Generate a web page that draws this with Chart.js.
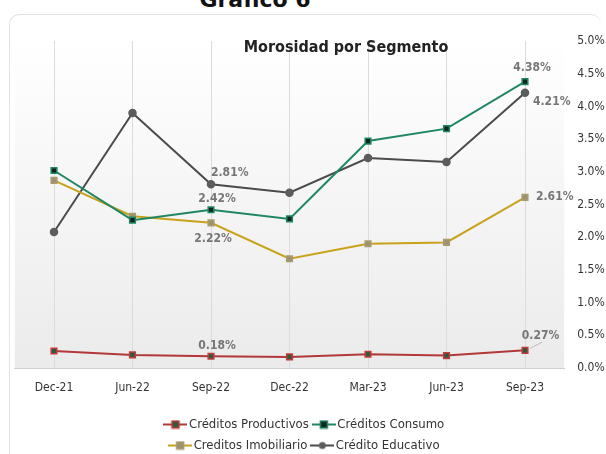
<!DOCTYPE html>
<html><head><meta charset="utf-8">
<script src="https://cdn.jsdelivr.net/npm/chart.js@4.4.1/dist/chart.umd.min.js"></script>
<style>
html,body{margin:0;padding:0;width:606px;height:454px;overflow:hidden;background:#fff;}
#card{position:absolute;left:9px;top:14px;width:592px;height:480px;border:1px solid #e3e3e3;border-right:none;border-radius:10px;box-sizing:border-box;}
#hdr{position:absolute;left:155px;width:200px;top:-11px;text-align:center;font:bold 22px "DejaVu Sans";line-height:22px;color:#111;white-space:nowrap;}
#ttl{position:absolute;left:0;width:692px;top:37px;text-align:center;font:bold 16px "DejaVu Sans Condensed","DejaVu Sans";color:#222;white-space:nowrap;}
canvas{position:absolute;left:0;top:0;}
</style></head>
<body>
<div id="card"></div>
<div id="hdr">Gráfico 6</div>
<canvas id="c" width="606" height="462"></canvas>
<div id="ttl">Morosidad por Segmento</div>
<script>
const categories = ['Dec-21','Jun-22','Sep-22','Dec-22','Mar-23','Jun-23','Sep-23'];
const seriesNames = ['Créditos Productivos','Créditos Consumo','Creditos Imobiliario','Crédito Educativo'];
const productivos = [0.26, 0.20, 0.18, 0.17, 0.21, 0.19, 0.27];
const consumo     = [3.02, 2.26, 2.42, 2.28, 3.47, 3.66, 4.38];
const imobiliario = [2.87, 2.32, 2.22, 1.67, 1.90, 1.92, 2.61];
const educativo   = [2.08, 3.90, 2.81, 2.68, 3.21, 3.15, 4.21];
const yTickValues = [0, 0.5, 1, 1.5, 2, 2.5, 3, 3.5, 4, 4.5, 5];
const yTickLabels = ['0.0%','0.5%','1.0%','1.5%','2.0%','2.5%','3.0%','3.5%','4.0%','4.5%','5.0%'];
// which points carry a value label: [series index, category index]
const labelledPoints = [[3,2],[1,2],[2,2],[0,2],[1,6],[3,6],[2,6],[0,6]];

// styles (kept separate from data)
const styles = [
  {line:'#b3383a', fill:'#2f5a3c', border:'#c23b3d', shape:'rect'},
  {line:'#1f8764', fill:'#10261c', border:'#1f8764', shape:'rect'},
  {line:'#c9a21c', fill:'#9c9172', border:'#a99c6e', shape:'rect'},
  {line:'#4b4b4b', fill:'#5c5c5c', border:'#5c5c5c', shape:'circle'}
];
const labelStyle = [ // dx, dy, align
  [0,-11,'left'],[6,-11,'center'],[2,16,'center'],[6,-10.5,'center'],
  [7,-14,'center'],[8,9,'left'],[11,0,'left'],[15.5,-14.5,'center']
];
const FONT = '"DejaVu Sans Condensed","DejaVu Sans",sans-serif';
const LEGEND_W = 330;

function legendIcon(s){
  const c = document.createElement('canvas'); c.width = 24; c.height = 10;
  const g = c.getContext('2d');
  g.strokeStyle = s.line; g.lineWidth = 2;
  g.beginPath(); g.moveTo(0,5); g.lineTo(24,5); g.stroke();
  g.fillStyle = s.fill; g.strokeStyle = s.border; g.lineWidth = 1.5;
  if (s.shape === 'rect') { g.fillRect(8.5,1.5,7,7); g.strokeRect(8.5,1.5,7,7); }
  else { g.beginPath(); g.arc(12,5,3.5,0,Math.PI*2); g.fill(); }
  return c;
}
const icons = styles.map(legendIcon);

const seriesData = [productivos, consumo, imobiliario, educativo];
const datasets = seriesData.map((d,k) => ({
  label: seriesNames[k],
  data: d,
  borderColor: styles[k].line,
  backgroundColor: styles[k].line,
  borderWidth: 2,
  pointStyle: styles[k].shape,
  pointRadius: styles[k].shape === 'rect' ? 4 : 3.5,
  pointBackgroundColor: styles[k].fill,
  pointBorderColor: styles[k].border,
  pointBorderWidth: 1.5,
  tension: 0,
  fill: false
}));

const bgPlugin = {
  id: 'bgGrad',
  beforeDraw(chart){
    const {ctx, chartArea:a} = chart;
    const g = ctx.createLinearGradient(0, a.top, 0, a.bottom);
    g.addColorStop(0, '#ffffff');
    g.addColorStop(1, '#ebebeb');
    ctx.save(); ctx.fillStyle = g; ctx.fillRect(a.left, a.top, a.right - a.left, a.bottom - a.top); ctx.restore();
  }
};
function wrapLegend(chart){
  const lg = chart.legend;
  if (!lg || lg._wrapped) return;
  const origUpdate = lg.update.bind(lg);
  lg.update = function(w, h, m){ return origUpdate(Math.min(w, LEGEND_W), h, m); };
  const origDraw = lg.draw.bind(lg);
  lg.draw = function(){
    const l = this.left, r = this.right, c = (l + r) / 2 - 4;
    this.left = c - LEGEND_W / 2; this.right = c + LEGEND_W / 2;
    origDraw();
    this.left = l; this.right = r;
  };
  lg._wrapped = true;
}
const legendWrap = {
  id: 'legendWrap',
  afterInit: wrapLegend,
  beforeUpdate: wrapLegend
};
const valueLabels = {
  id: 'valueLabels',
  afterDatasetsDraw(chart){
    const ctx = chart.ctx;
    ctx.save();
    ctx.font = 'bold 12px ' + FONT;
    ctx.fillStyle = '#767676';
    ctx.textBaseline = 'middle';
    labelledPoints.forEach(([s,i], n) => {
      const pt = chart.getDatasetMeta(s).data[i];
      const [dx, dy, al] = labelStyle[n];
      ctx.textAlign = al;
      ctx.fillText(seriesData[s][i].toFixed(2) + '%', pt.x + dx, pt.y + dy);
      if (s === 0 && i === 6) {
        ctx.strokeStyle = '#bdbdbd'; ctx.lineWidth = 1;
        ctx.beginPath(); ctx.moveTo(pt.x + 5, pt.y - 2); ctx.lineTo(pt.x + 17, pt.y - 8); ctx.stroke();
      }
    });
    ctx.restore();
  }
};

new Chart(document.getElementById('c'), {
  type: 'line',
  data: { labels: categories, datasets },
  options: {
    responsive: false,
    animation: false,
    devicePixelRatio: 1,
    layout: { padding: { top: 41, left: 14.75, right: 0, bottom: 0 } },
    plugins: {
      tooltip: { enabled: false },
      title: { display: false },
      legend: {
        position: 'bottom',
        labels: {
          usePointStyle: true,
          pointStyleWidth: 14,
          padding: 8,
          color: '#333',
          font: { family: FONT, size: 13 },
          generateLabels(chart){
            const base = Chart.defaults.plugins.legend.labels.generateLabels(chart);
            return base.map((it, k) => Object.assign(it, { pointStyle: icons[k], lineWidth: 0 }));
          }
        }
      }
    },
    scales: {
      x: {
        offset: true,
        grid: { display: true, offset: false, color: '#dcdcdc', drawTicks: false },
        border: { display: true, color: '#cfcfcf' },
        ticks: { padding: 13, color: '#333', font: { family: FONT, size: 12 }, maxRotation: 0 },
        afterFit(scale){ scale.height = 42; }
      },
      y: {
        position: 'right',
        min: 0, max: 5,
        grid: { display: false, drawTicks: false },
        border: { display: false },
        afterBuildTicks(scale){ scale.ticks = yTickValues.map(v => ({ value: v })); },
        ticks: {
          padding: 13, color: '#333', font: { family: FONT, size: 12 },
          callback: (v, i) => yTickLabels[i]
        },
        afterFit(scale){ scale.width = 41.75; }
      }
    }
  },
  plugins: [bgPlugin, legendWrap, valueLabels]
});
</script>
</body></html>
